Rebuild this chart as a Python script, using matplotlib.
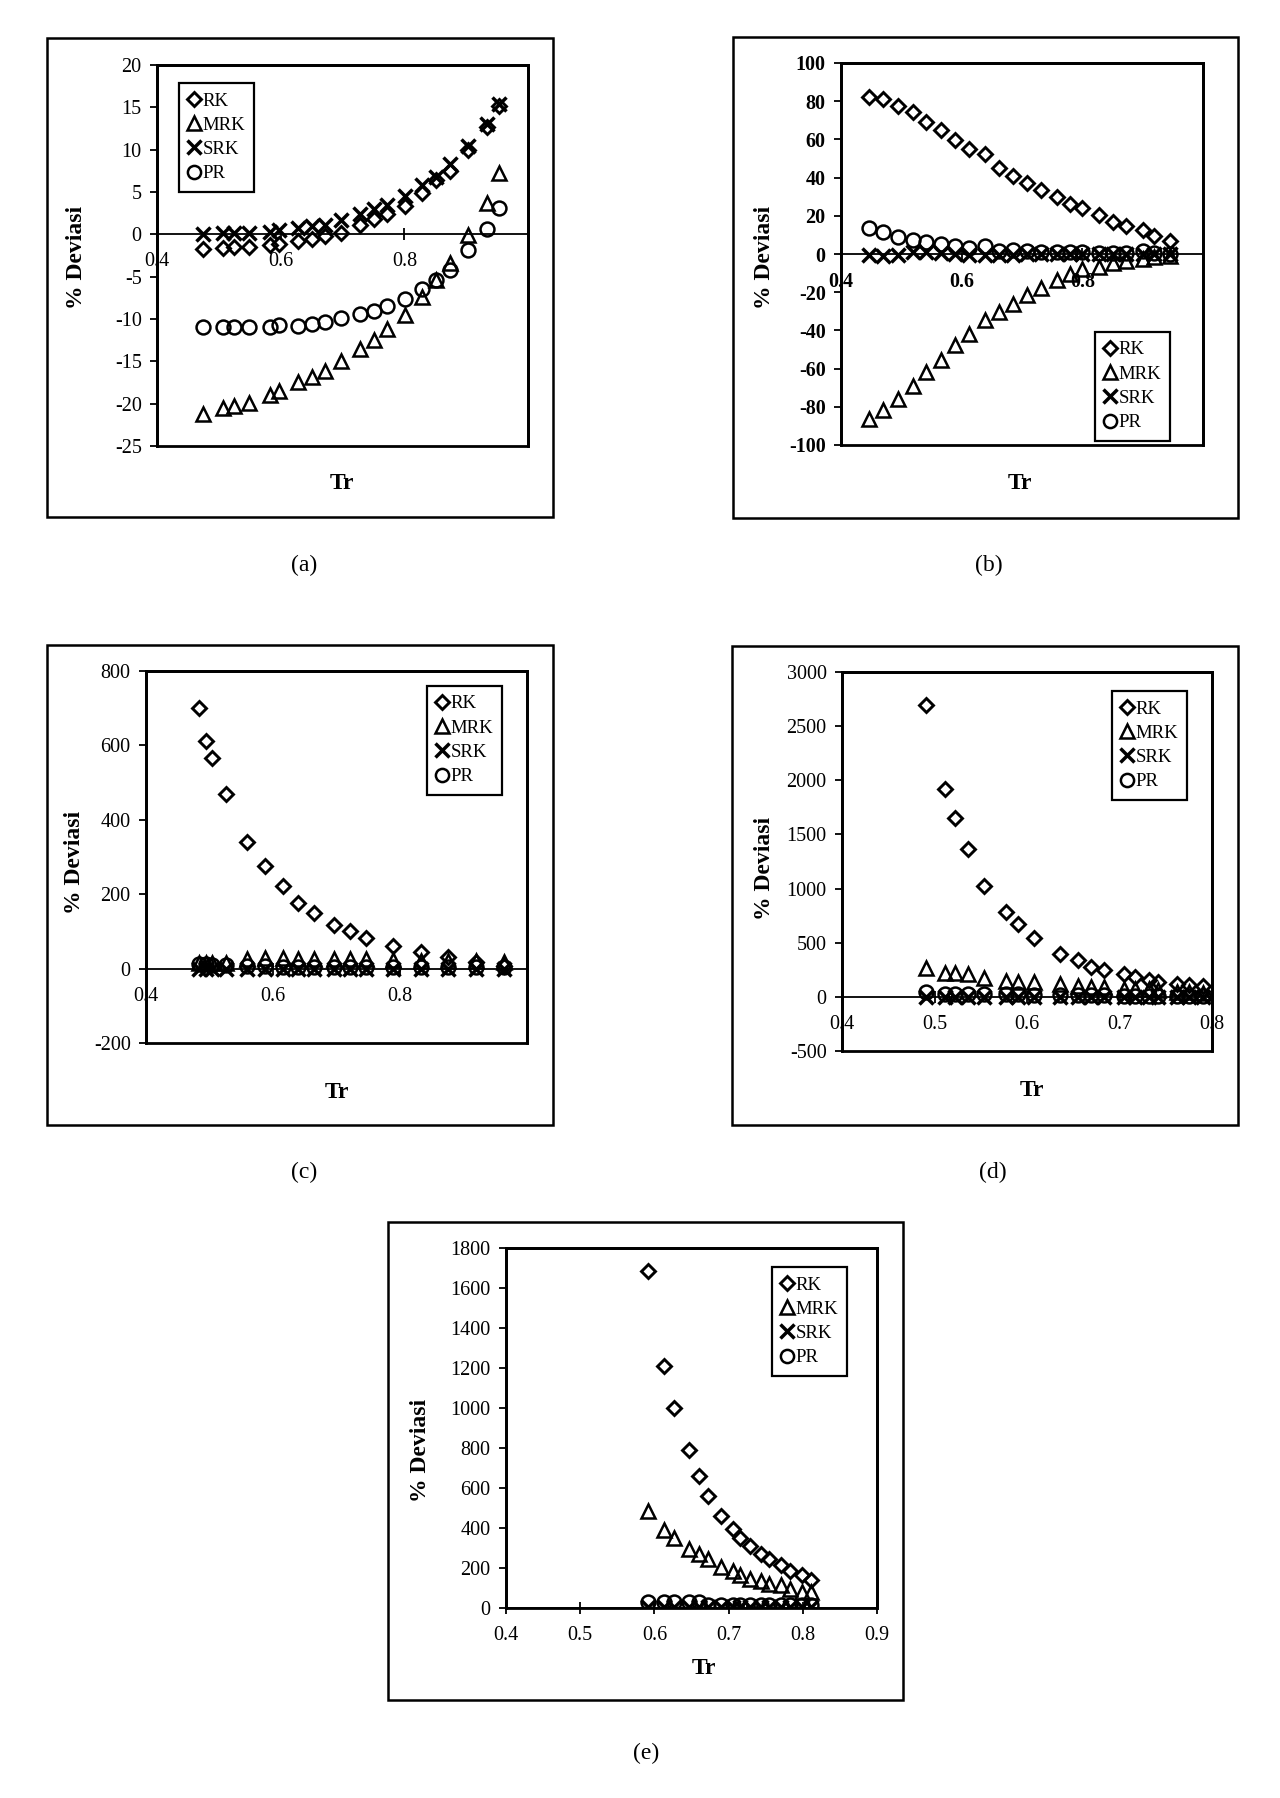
import matplotlib
matplotlib.use('Agg')
import matplotlib.pyplot as plt
from matplotlib.patches import Rectangle

plt.rcParams['font.family'] = ['Liberation Serif', 'DejaVu Serif']

W, H = 1280, 1798

# ---------------- data ----------------
series_names = ["RK", "MRK", "SRK", "PR"]

# (a)
tr_a = [0.475, 0.507, 0.525, 0.549, 0.582, 0.598, 0.628, 0.650, 0.672, 0.698,
        0.729, 0.751, 0.772, 0.801, 0.829, 0.851, 0.874, 0.903, 0.933, 0.953]
rk_a = [-1.7, -1.6, -1.5, -1.5, -1.3, -1.1, -0.8, -0.5, -0.2, 0.2,
        1.1, 1.8, 2.4, 3.3, 4.9, 6.4, 7.5, 10.0, 12.7, 15.1]
mrk_a = [-21.2, -20.5, -20.3, -19.9, -19.0, -18.5, -17.5, -16.8, -16.1, -15.0,
         -13.6, -12.5, -11.2, -9.5, -7.4, -5.4, -3.4, -0.1, 3.7, 7.2]
srk_a = [0.0, 0.2, 0.2, 0.1, 0.3, 0.5, 0.8, 1.0, 1.1, 1.7,
         2.4, 3.0, 3.5, 4.5, 5.8, 6.8, 8.3, 10.4, 13.0, 15.4]
pr_a = [-10.9, -10.9, -10.9, -10.9, -10.9, -10.7, -10.8, -10.6, -10.3, -9.9,
        -9.4, -9.0, -8.5, -7.6, -6.4, -5.4, -4.2, -1.9, 0.6, 3.1]

# (b)
tr_b = [0.446, 0.469, 0.495, 0.519, 0.541, 0.566, 0.589, 0.612, 0.638, 0.662, 0.685,
        0.708, 0.731, 0.758, 0.780, 0.800, 0.827, 0.851, 0.873, 0.900, 0.919, 0.946]
rk_b = [82.3, 80.9, 77.4, 74.4, 69.2, 64.9, 59.7, 54.8, 52.5, 45.2, 40.9,
        37.0, 33.6, 29.6, 26.1, 24.0, 20.3, 16.5, 14.4, 12.5, 9.2, 6.6]
mrk_b = [-86.6, -81.7, -75.7, -69.2, -61.7, -55.7, -47.8, -41.7, -34.8, -30.4, -26.1,
         -21.4, -17.9, -13.6, -10.4, -7.8, -6.6, -4.5, -3.5, -2.5, -1.5, -0.8]
srk_b = [-0.3, -0.9, -0.4, 0.9, 0.8, 0.3, 0.0, -0.3, -0.5, -0.4, -0.3,
         -0.2, -0.2, -0.1, -0.1, 0.0, 0.0, 0.0, 0.0, 0.0, 0.0, 0.0]
pr_b = [13.6, 11.3, 9.0, 7.3, 6.1, 5.2, 4.3, 3.1, 4.3, 1.7, 2.1,
        1.7, 0.9, 0.9, 0.9, 0.9, 0.5, 0.5, 0.4, 1.4, 0.4, 0.0]

# (c)
tr_c = [0.483, 0.494, 0.504, 0.526, 0.559, 0.588, 0.616, 0.639, 0.664, 0.696,
        0.721, 0.746, 0.789, 0.833, 0.876, 0.919, 0.963]
rk_c = [701, 611, 567, 469, 340, 275, 221, 176, 150, 116, 100, 83, 61, 44, 30, 18, 8]
mrk_c = [15, 15, 15, 15, 25, 28, 28, 27, 27, 25, 25, 25, 22, 20, 20, 20, 17]
srk_c = [0, 0, 0, 0, 0, 0, 0, 0, 0, 0, 0, 0, 0, 0, 0, 0, 0]
pr_c = [12, 12, 10, 10, 8, 8, 5, 5, 5, 5, 5, 5, 5, 5, 5, 5, 5]

# (d)
tr_d = [0.491, 0.511, 0.522, 0.536, 0.554, 0.577, 0.590, 0.608, 0.636, 0.655,
        0.669, 0.683, 0.705, 0.717, 0.732, 0.742, 0.762, 0.775, 0.790]
rk_d = [2692, 1918, 1656, 1363, 1024, 786, 669, 540, 395, 339,
        278, 247, 210, 185, 154, 133, 117, 114, 102]
mrk_d = [262, 222, 216, 210, 170, 145, 133, 133, 117, 99,
         93, 93, 77, 75, 70, 62, 46, 45, 37]
srk_d = [0, 0, 0, 0, 0, 0, 0, 0, 0, 0, 0, 0, 0, 0, 0, 0, 0, 0, 0]
pr_d = [46, 28, 28, 27, 25, 24, 23, 20, 16, 15, 14, 13, 12, 12, 11, 11, 10, 10, 10]

# (e)
tr_e = [0.591, 0.6125, 0.626, 0.646, 0.660, 0.672, 0.690, 0.706, 0.715, 0.729,
        0.743, 0.754, 0.771, 0.783, 0.799, 0.811]
rk_e = [1683, 1212, 1002, 790, 661, 559, 459, 394, 351, 309, 272, 244, 214, 184, 164, 142]
mrk_e = [484, 389, 351, 297, 272, 244, 205, 184, 167, 147, 135, 122, 114, 94, 80, 80]
srk_e = [5, 5, 5, 5, 5, 5, 5, 5, 5, 5, 5, 5, 5, 5, 5, 5]
pr_e = [30, 28, 28, 28, 28, 15, 15, 15, 15, 15, 15, 15, 15, 15, 15, 15]

# ---------------- layout helpers ----------------
fig = plt.figure(figsize=(W / 100, H / 100), dpi=100)
fig.patch.set_facecolor('white')


def fbox(l, t, r, b):
    return [l / W, 1 - b / H, (r - l) / W, (b - t) / H]


styles = {
    "RK": dict(marker='D', ms=7.5, mfc='none', mec='black', mew=2.1),
    "MRK": dict(marker='^', ms=10, mfc='none', mec='black', mew=1.8),
    "SRK": dict(marker='x', ms=10, mfc='none', mec='black', mew=2.5),
    "PR": dict(marker='o', ms=10, mfc='none', mec='black', mew=1.8),
}

panels = [
    dict(tag='(a)', tr=tr_a, ys=[rk_a, mrk_a, srk_a, pr_a], xlim=(0.4, 1.0), xt=[0.4, 0.6, 0.8],
         ylim=(-25, 20), yt=list(range(-25, 21, 5)), ax=(157, 65, 528, 446), frame=(47, 38, 553, 517),
         leg=(179, 83), cap=(304, 565), trpos=(342, 483), ylab=(77, 257), bold=False),
    dict(tag='(b)', tr=tr_b, ys=[rk_b, mrk_b, srk_b, pr_b], xlim=(0.4, 1.0), xt=[0.4, 0.6, 0.8],
         ylim=(-100, 100), yt=list(range(-100, 101, 20)), ax=(841, 63, 1203, 445), frame=(733, 37, 1238, 518),
         leg=(1095, 332), cap=(989, 565), trpos=(1020, 483), ylab=(764, 257), bold=True),
    dict(tag='(c)', tr=tr_c, ys=[rk_c, mrk_c, srk_c, pr_c], xlim=(0.4, 1.0), xt=[0.4, 0.6, 0.8],
         ylim=(-200, 800), yt=list(range(-200, 801, 200)), ax=(146, 671, 527, 1043), frame=(47, 645, 553, 1125),
         leg=(427, 686), cap=(304, 1172), trpos=(337, 1092), ylab=(75, 862), bold=False),
    dict(tag='(d)', tr=tr_d, ys=[rk_d, mrk_d, srk_d, pr_d], xlim=(0.4, 0.8), xt=[0.4, 0.5, 0.6, 0.7, 0.8],
         ylim=(-500, 3000), yt=list(range(-500, 3001, 500)), ax=(842, 672, 1212, 1051), frame=(732, 646, 1238, 1125),
         leg=(1112, 691), cap=(993, 1172), trpos=(1032, 1090), ylab=(764, 868), bold=False),
    dict(tag='(e)', tr=tr_e, ys=[rk_e, mrk_e, srk_e, pr_e], xlim=(0.4, 0.9), xt=[0.4, 0.5, 0.6, 0.7, 0.8, 0.9],
         ylim=(0, 1800), yt=list(range(0, 1801, 200)), ax=(506, 1248, 877, 1608), frame=(388, 1222, 903, 1700),
         leg=(772, 1267), cap=(646, 1753), trpos=(704, 1668), ylab=(421, 1450), bold=False),
]

for p in panels:
    l, t, r, b = p['ax']
    ax = fig.add_axes(fbox(l, t, r, b))
    ax.set_facecolor('white')
    handles = []
    for name, y in zip(series_names, p['ys']):
        h, = ax.plot(p['tr'], y, linestyle='none', label=name, **styles[name])
        handles.append(h)
    ax.set_xlim(*p['xlim'])
    ax.set_ylim(*p['ylim'])
    ax.set_xticks(p['xt'])
    ax.set_xticklabels(['{:.1f}'.format(v) for v in p['xt']])
    ax.set_yticks(p['yt'])
    ax.set_yticklabels([str(v) for v in p['yt']])
    # x axis crosses at zero
    ax.spines['bottom'].set_position(('data', 0))
    ax.spines['bottom'].set_linewidth(1.3)
    for s in ['top', 'left', 'right']:
        ax.spines[s].set_linewidth(2.0)
    ax.add_patch(Rectangle((0, 0), 1, 1, transform=ax.transAxes, fill=False,
                           lw=2.0, ec='black', zorder=5, clip_on=False))
    fw = 'bold' if p['bold'] else 'normal'
    ax.tick_params(axis='y', direction='out', length=5, width=1.3, pad=6, labelsize=14.5)
    ax.tick_params(axis='x', direction='inout', length=8, width=1.3, pad=9, labelsize=14.5)
    for lab in ax.get_yticklabels() + ax.get_xticklabels():
        lab.set_fontweight(fw)

    leg = fig.legend(handles=handles, loc='upper left',
                     bbox_to_anchor=(p['leg'][0] / W, 1 - p['leg'][1] / H),
                     bbox_transform=fig.transFigure, borderaxespad=0,
                     fancybox=False, framealpha=1, edgecolor='black',
                     prop={'size': 13.5}, handlelength=0.6, handletextpad=0.15,
                     labelspacing=0.38, borderpad=0.5, markerscale=0.95)
    leg.get_frame().set_linewidth(1.6)

    # outer chart frame
    fl, ft, fr, fb = p['frame']
    fig.add_artist(Rectangle((fl / W, 1 - fb / H), (fr - fl) / W, (fb - ft) / H,
                             transform=fig.transFigure, fill=False, lw=1.8, ec='black'))
    # labels
    fig.text(p['trpos'][0] / W, 1 - p['trpos'][1] / H, 'Tr', ha='center', va='center',
             fontsize=17, fontweight='bold')
    fig.text(p['ylab'][0] / W, 1 - p['ylab'][1] / H, '% Deviasi', ha='center', va='center',
             rotation=90, fontsize=17, fontweight='bold')
    fig.text(p['cap'][0] / W, 1 - p['cap'][1] / H, p['tag'], ha='center', va='center',
             fontsize=17)

fig.savefig('out.png', dpi=100, facecolor='white')
